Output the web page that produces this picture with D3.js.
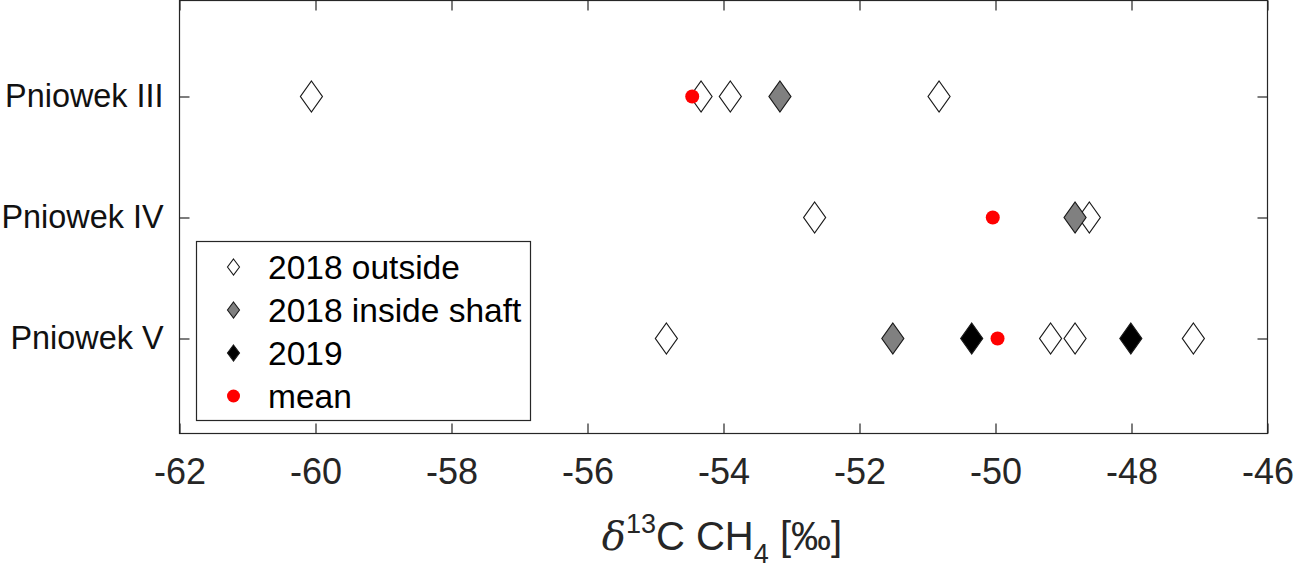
<!DOCTYPE html>
<html>
<head>
<meta charset="utf-8">
<script src="https://cdn.jsdelivr.net/npm/d3@7"></script>
<style>
  html, body { margin: 0; padding: 0; background: #fff; }
  svg { display: block; }
  text { font-family: "Liberation Sans", Arial, sans-serif; }
</style>
</head>
<body>
<svg id="chart" width="1294" height="570"></svg>
<script>
// ---------------- data ----------------
const sites = ["Pniowek III", "Pniowek IV", "Pniowek V"];
const xTicks = [-62, -60, -58, -56, -54, -52, -50, -48, -46];
// 2018 outside
const outside2018 = [
  { site: "Pniowek III", v: -60.06 },
  { site: "Pniowek III", v: -54.33 },
  { site: "Pniowek III", v: -53.90 },
  { site: "Pniowek III", v: -50.83 },
  { site: "Pniowek IV",  v: -52.66 },
  { site: "Pniowek IV",  v: -48.62 },
  { site: "Pniowek V",   v: -54.84 },
  { site: "Pniowek V",   v: -49.19 },
  { site: "Pniowek V",   v: -48.83 },
  { site: "Pniowek V",   v: -47.09 }
];
// 2018 inside shaft
const inside2018 = [
  { site: "Pniowek III", v: -53.17 },
  { site: "Pniowek IV",  v: -48.83 },
  { site: "Pniowek V",   v: -51.51 }
];
// 2019
const data2019 = [
  { site: "Pniowek V", v: -50.35 },
  { site: "Pniowek V", v: -48.01 }
];
// mean
const means = [
  { site: "Pniowek III", v: -54.46 },
  { site: "Pniowek IV",  v: -50.04 },
  { site: "Pniowek V",   v: -49.97 }
];
const legendLabels = ["2018 outside", "2018 inside shaft", "2019", "mean"];

// ---------------- layout ----------------
const svg = d3.select("#chart");
const plot = { left: 179.5, right: 1267.5, top: 0.5, bottom: 433.5 };
const x = d3.scaleLinear().domain([-62, -46]).range([plot.left, plot.right]);
const siteIndex = d3.scaleOrdinal().domain(sites).range([1, 2, 3]);
const y = d3.scaleLinear().domain([1, 3]).range([96.5, 338.5]);
const axisColor = "#262626";
const tickLen = 10;

// frame
svg.append("rect")
  .attr("x", plot.left).attr("y", plot.top)
  .attr("width", plot.right - plot.left).attr("height", plot.bottom - plot.top)
  .attr("fill", "none").attr("stroke", axisColor).attr("stroke-width", 1.2);

// x axis (bottom) with inward ticks
const xAxis = d3.axisBottom(x).tickValues(xTicks).tickSizeInner(-tickLen).tickSizeOuter(0)
  .tickPadding(25).tickFormat(d => d3.format("d")(d).replace("−", "-"));
const gx = svg.append("g").attr("transform", `translate(0,${plot.bottom})`).call(xAxis);
gx.select(".domain").remove();
gx.selectAll(".tick line").attr("stroke", axisColor).attr("stroke-width", 1.2);
gx.selectAll(".tick text").attr("fill", axisColor)
  .style("font-family", "'Liberation Sans', Arial, sans-serif").style("font-size", "36px");

// top mirror ticks
const gxt = svg.append("g").attr("transform", `translate(0,${plot.top})`)
  .call(d3.axisTop(x).tickValues(xTicks).tickSizeInner(-tickLen).tickSizeOuter(0).tickFormat(""));
gxt.select(".domain").remove();
gxt.selectAll(".tick line").attr("stroke", axisColor).attr("stroke-width", 1.2);

// y axis (left)
const yAxis = d3.axisLeft(y).tickValues([1, 2, 3]).tickSizeInner(-tickLen).tickSizeOuter(0)
  .tickPadding(16).tickFormat(d => sites[d - 1]);
const gy = svg.append("g").attr("transform", `translate(${plot.left},0)`).call(yAxis);
gy.select(".domain").remove();
gy.selectAll(".tick line").attr("stroke", axisColor).attr("stroke-width", 1.2);
gy.selectAll(".tick text").attr("fill", "#111")
  .style("font-family", "'Liberation Sans', Arial, sans-serif").style("font-size", "32.4px");

// right mirror ticks
const gyr = svg.append("g").attr("transform", `translate(${plot.right},0)`)
  .call(d3.axisRight(y).tickValues([1, 2, 3]).tickSizeInner(-tickLen).tickSizeOuter(0).tickFormat(""));
gyr.select(".domain").remove();
gyr.selectAll(".tick line").attr("stroke", axisColor).attr("stroke-width", 1.2);

// x-axis title
const title = svg.append("text")
  .attr("x", 722).attr("y", 550)
  .attr("text-anchor", "middle")
  .attr("fill", axisColor)
  .style("font-size", "40px");
title.append("tspan").text("δ")
  .style("font-family", "'DejaVu Serif', 'Liberation Serif', serif").style("font-style", "italic");
title.append("tspan").text("13").attr("dy", -17).style("font-size", "27px");
title.append("tspan").text("C CH").attr("dy", 17);
title.append("tspan").text("4").attr("dy", 13).style("font-size", "27px");
title.append("tspan").text(" [‰]").attr("dy", -13);

// ---------------- markers ----------------
function diamond(w, h) {
  return `M0,${-h / 2}L${w / 2},0L0,${h / 2}L${-w / 2},0Z`;
}
const dW = 22, dH = 31;
const series = [
  { data: outside2018, fill: "#ffffff" },
  { data: inside2018, fill: "#808080" },
  { data: data2019, fill: "#000000" }
];
series.forEach(s => {
  svg.append("g").selectAll("path").data(s.data).join("path")
    .attr("d", diamond(dW, dH))
    .attr("transform", d => `translate(${x(d.v)},${y(siteIndex(d.site))})`)
    .attr("fill", s.fill).attr("stroke", "#1a1a1a").attr("stroke-width", 1.2);
});
svg.append("g").selectAll("circle").data(means).join("circle")
  .attr("cx", d => x(d.v)).attr("cy", d => y(siteIndex(d.site)))
  .attr("r", 7).attr("fill", "#ff0000");

// ---------------- legend ----------------
const leg = svg.append("g");
leg.append("rect")
  .attr("x", 196.5).attr("y", 241.5).attr("width", 334).attr("height", 179)
  .attr("fill", "#fff").attr("stroke", axisColor).attr("stroke-width", 1.2);
const legFills = ["#ffffff", "#808080", "#000000", "#ff0000"];
const legY = d3.scalePoint().domain(legendLabels).range([267, 396]);
legendLabels.forEach((lab, i) => {
  const cy = legY(lab);
  if (i < 3) {
    leg.append("path").attr("d", diamond(12, 16))
      .attr("transform", `translate(233.5,${cy})`)
      .attr("fill", legFills[i]).attr("stroke", "#1a1a1a").attr("stroke-width", 1.1);
  } else {
    leg.append("circle").attr("cx", 233.5).attr("cy", cy).attr("r", 6.5).attr("fill", legFills[i]);
  }
  leg.append("text").attr("x", 268).attr("y", cy + 12)
    .attr("fill", "#000").style("font-size", "33.5px").text(lab);
});
</script>
</body>
</html>
